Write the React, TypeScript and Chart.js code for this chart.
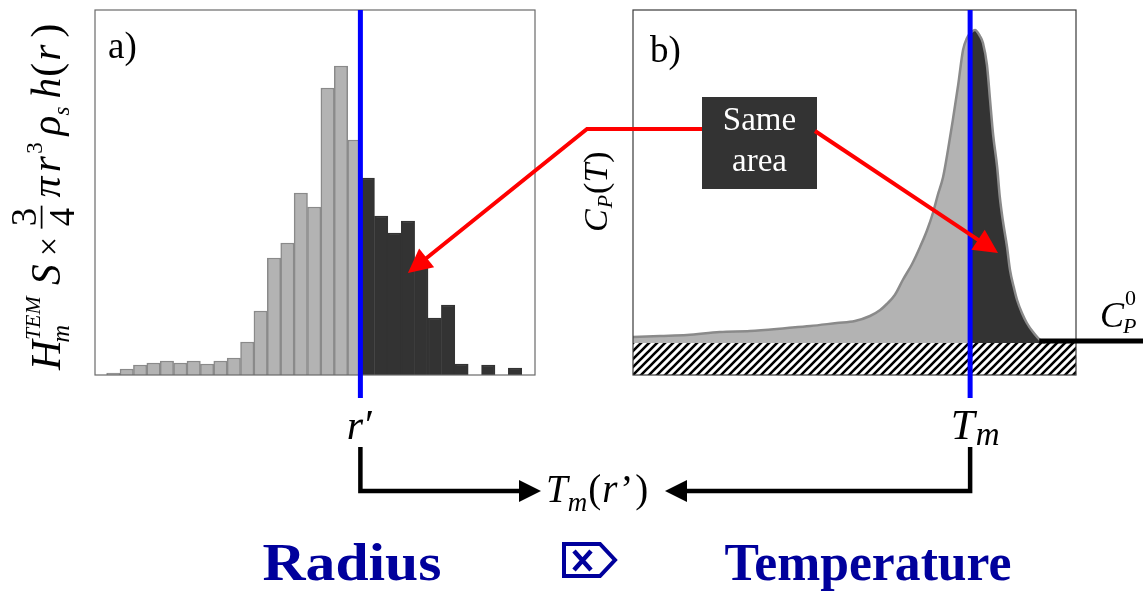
import React, { useEffect, useRef } from "react";
import { Chart, registerables } from "chart.js";

Chart.register(...registerables);

const W = 1143;
const H = 591;

// ---- panel a: volume-weighted radius histogram ----
const radiusBins = [
  1, 2, 3, 4, 5, 6, 7, 8, 9, 10, 11, 12, 13, 14, 15, 16, 17, 18, 19, 20, 21,
  22, 23, 24, 25, 26, 27, 28, 29, 30, 31,
];
const weightedCounts = [
  2, 6, 10, 12, 14, 12, 14, 11, 14, 17, 33, 64, 117, 132, 182, 168, 287, 309,
  235, 197, 159, 142, 154, 115, 57, 70, 11, 0, 10, 0, 7,
];
const rPrime = 19.45;

// ---- panel b: heat capacity trace ----
const temperature = [
  0, 6.1, 12.2, 19.6, 26.4, 34.8, 40.0, 46.0, 50.1, 53.5, 55.8, 57.3, 59.1,
  60.9, 63.0, 64.8, 66.4, 67.7, 68.8, 70.0, 71.1, 72.2, 73.4, 74.5, 75.4, 76.1,
  77.2, 78.3, 79.0, 79.9, 80.6, 81.3, 82.2, 82.8, 83.5, 84.4, 85.1, 86.0, 86.7,
  87.8, 88.9, 90.3, 91.9, 93.0,
];
const heatCapacity = [
  6, 7, 8, 11, 12, 15, 17, 20, 22, 27, 33, 39, 48, 63, 79, 96, 113, 130, 148,
  166, 193, 223, 258, 293, 305, 310, 313, 307, 300, 278, 243, 208, 176, 146,
  122, 97, 73, 55, 43, 30, 20, 11, 3, 0,
];
const meltingT = 76.1;
const baselineCp = 0;
const cpMin = -32;
const cpMax = 333;

const SERIF = '"Liberation Serif", "Times New Roman", serif';
const it = (n: number) => `italic ${n}px ${SERIF}`;
const rm = (n: number) => `${n}px ${SERIF}`;
const bd = (n: number) => `bold ${n}px ${SERIF}`;

const GRAY = "#b3b3b3";
const GRAY_EDGE = "#8a8a8a";
const DARK = "#333333";
const BLUE = "#0000ff";
const RED = "#ff0000";
const NAVY = "#00009c";

type Piece = {
  t?: string;
  f: string;
  dx?: number;
  dy?: number;
  hold?: boolean;
  frac?: [string, string];
};

function runPieces(
  ctx: CanvasRenderingContext2D,
  pieces: Piece[],
  x: number,
  y: number,
  draw: boolean
) {
  let cx = x;
  for (const p of pieces) {
    ctx.font = p.f;
    cx += p.dx || 0;
    let w = 0;
    if (p.frac) {
      const [n, d] = p.frac;
      const wn = ctx.measureText(n).width;
      const wd = ctx.measureText(d).width;
      w = Math.max(wn, wd) + 4;
      if (draw) {
        ctx.fillText(n, cx + (w - wn) / 2, y - 21);
        ctx.fillText(d, cx + (w - wd) / 2, y + 12);
        ctx.fillRect(cx, y - 16.75, w, 1.5);
      }
    } else {
      w = ctx.measureText(p.t || "").width;
      if (draw) ctx.fillText(p.t || "", cx, y + (p.dy || 0));
    }
    if (!p.hold) cx += w;
  }
  return cx - x;
}

function drawPieces(
  ctx: CanvasRenderingContext2D,
  pieces: Piece[],
  x: number,
  y: number,
  align: "left" | "center" = "left"
) {
  ctx.textAlign = "left";
  ctx.textBaseline = "alphabetic";
  let sx = x;
  if (align === "center") sx = x - runPieces(ctx, pieces, 0, 0, false) / 2;
  runPieces(ctx, pieces, sx, y, true);
}

// text stretched horizontally to span a given width, centred on cx
function fitText(
  ctx: CanvasRenderingContext2D,
  text: string,
  cx: number,
  y: number,
  width: number
) {
  const w = ctx.measureText(text).width;
  ctx.save();
  ctx.translate(cx, y);
  ctx.scale(width / w, 1);
  ctx.textAlign = "center";
  ctx.fillText(text, 0, 0);
  ctx.restore();
}

function arrow(
  ctx: CanvasRenderingContext2D,
  pts: [number, number][],
  color: string,
  width: number,
  headLen: number,
  headHalf: number
) {
  const n = pts.length;
  const [tx, ty] = pts[n - 1];
  const [px, py] = pts[n - 2];
  const ang = Math.atan2(ty - py, tx - px);
  const bx = tx - Math.cos(ang) * headLen;
  const by = ty - Math.sin(ang) * headLen;
  ctx.save();
  ctx.strokeStyle = color;
  ctx.fillStyle = color;
  ctx.lineWidth = width;
  ctx.lineJoin = "miter";
  ctx.beginPath();
  ctx.moveTo(pts[0][0], pts[0][1]);
  for (let i = 1; i < n - 1; i++) ctx.lineTo(pts[i][0], pts[i][1]);
  ctx.lineTo(bx + Math.cos(ang) * 2, by + Math.sin(ang) * 2);
  ctx.stroke();
  ctx.beginPath();
  ctx.moveTo(tx, ty);
  ctx.lineTo(bx - Math.sin(ang) * headHalf, by + Math.cos(ang) * headHalf);
  ctx.lineTo(bx + Math.sin(ang) * headHalf, by - Math.cos(ang) * headHalf);
  ctx.closePath();
  ctx.fill();
  ctx.restore();
}

function hatchPattern() {
  const s = 8;
  const c = document.createElement("canvas");
  c.width = s;
  c.height = s;
  const g = c.getContext("2d")!;
  g.fillStyle = "#ffffff";
  g.fillRect(0, 0, s, s);
  g.strokeStyle = "#000000";
  g.lineWidth = 2.6;
  g.beginPath();
  g.moveTo(-1, s + 1);
  g.lineTo(s + 1, -1);
  g.moveTo(-s / 2 - 1, s / 2 + 1);
  g.lineTo(s / 2 + 1, -s / 2 - 1);
  g.moveTo(s / 2 - 1, s * 1.5 + 1);
  g.lineTo(s * 1.5 + 1, s / 2 - 1);
  g.stroke();
  return g.createPattern(c, "repeat")!;
}

const yLabelA: Piece[] = [
  { t: "H", f: it(36) },
  { t: "m", f: it(21), dx: -2, dy: 8, hold: true },
  { t: "TEM", f: it(19), dx: 2, dy: -17 },
  { t: "S", f: it(36), dx: 10 },
  { t: "×", f: rm(30), dx: 7 },
  { frac: ["3", "4"], f: rm(32), dx: 7 },
  { t: "π", f: it(36), dx: 7 },
  { t: "r", f: it(36), dx: 4 },
  { t: "3", f: rm(20), dx: 2, dy: -16 },
  { t: "ρ", f: it(36), dx: 6 },
  { t: "s", f: it(20), dy: 8 },
  { t: "h", f: it(36), dx: 7 },
  { t: "(", f: rm(36), dx: 1 },
  { t: "r", f: it(36), dx: 2 },
  { t: ")", f: rm(36), dx: 6 },
];

const yLabelB: Piece[] = [
  { t: "C", f: it(34) },
  { t: "P", f: it(22), dx: 1, dy: 5 },
  { t: "(", f: rm(34), dx: 1 },
  { t: "T", f: it(34) },
  { t: ")", f: rm(34), dx: 1 },
];

export default function App() {
  const refA = useRef<HTMLCanvasElement>(null);
  const refB = useRef<HTMLCanvasElement>(null);

  useEffect(() => {
    const barColors = radiusBins.map((r) => (r < rPrime ? GRAY : DARK));
    const barEdges = radiusBins.map((r) => (r < rPrime ? GRAY_EDGE : DARK));

    const panelA = {
      id: "panelA",
      afterDatasetsDraw(chart: any) {
        const ctx = chart.ctx as CanvasRenderingContext2D;
        const { left, top, right, bottom } = chart.chartArea;
        ctx.save();
        ctx.strokeStyle = "#6a6a6a";
        ctx.lineWidth = 1.2;
        ctx.strokeRect(left, top, right - left, bottom - top);
        const x = chart.scales.x.getPixelForValue(rPrime);
        ctx.strokeStyle = BLUE;
        ctx.lineWidth = 5;
        ctx.beginPath();
        ctx.moveTo(x, top);
        ctx.lineTo(x, bottom + 23);
        ctx.stroke();
        ctx.restore();
      },
      afterDraw(chart: any) {
        const ctx = chart.ctx as CanvasRenderingContext2D;
        ctx.save();
        ctx.fillStyle = "#000";
        ctx.font = rm(37);
        ctx.fillText("a)", chart.chartArea.left + 13, 58);
        ctx.translate(60, 370);
        ctx.rotate(-Math.PI / 2);
        ctx.scale(1.15, 1.15);
        drawPieces(ctx, yLabelA, 0, 0);
        ctx.restore();
      },
    };

    const chartA = new Chart(refA.current!, {
      type: "bar",
      data: {
        datasets: [
          {
            data: radiusBins.map((r, i) => ({ x: r, y: weightedCounts[i] })),
            backgroundColor: barColors,
            borderColor: barEdges,
            borderWidth: 1.5,
            barPercentage: 1,
            categoryPercentage: 1,
          },
        ],
      },
      options: {
        responsive: false,
        animation: false,
        events: [],
        layout: { padding: { left: 95, top: 10, right: W - 535, bottom: H - 375 } },
        scales: {
          x: { type: "linear", min: -0.37, max: 32.49, offset: false, display: false },
          y: { min: 0, max: 365, display: false },
        },
        plugins: { legend: { display: false }, tooltip: { enabled: false } },
      },
      plugins: [panelA],
    } as any);

    const below = temperature
      .map((t, i) => ({ x: t, y: heatCapacity[i] }))
      .filter((p) => p.x <= meltingT);
    const above = temperature
      .map((t, i) => ({ x: t, y: heatCapacity[i] }))
      .filter((p) => p.x >= meltingT);

    const panelB = {
      id: "panelB",
      afterDatasetsDraw(chart: any) {
        const ctx = chart.ctx as CanvasRenderingContext2D;
        const { left, top, right, bottom } = chart.chartArea;
        ctx.save();
        ctx.strokeStyle = "#3a3a3a";
        ctx.lineWidth = 1.2;
        ctx.strokeRect(left, top, right - left, bottom - top);
        const x = chart.scales.x.getPixelForValue(meltingT);
        ctx.strokeStyle = BLUE;
        ctx.lineWidth = 5;
        ctx.beginPath();
        ctx.moveTo(x, top);
        ctx.lineTo(x, bottom + 23);
        ctx.stroke();
        ctx.restore();
      },
      afterDraw(chart: any) {
        const ctx = chart.ctx as CanvasRenderingContext2D;
        const xs = chart.scales.x;
        const ys = chart.scales.y;
        const ax = chartA.scales.x;
        const ay = chartA.scales.y;
        const xr = ax.getPixelForValue(rPrime);
        const xt = xs.getPixelForValue(meltingT);
        ctx.save();

        // panel label and axis label
        ctx.fillStyle = "#000";
        ctx.font = rm(37);
        ctx.fillText("b)", chart.chartArea.left + 17, 62);
        ctx.save();
        ctx.translate(607, 232);
        ctx.rotate(-Math.PI / 2);
        drawPieces(ctx, yLabelB, 0, 0);
        ctx.restore();

        // baseline heat capacity marker
        const yb = ys.getPixelForValue(baselineCp) - 2;
        ctx.strokeStyle = "#000";
        ctx.lineWidth = 5;
        ctx.beginPath();
        ctx.moveTo(xs.getPixelForValue(91.7), yb);
        ctx.lineTo(W, yb);
        ctx.stroke();
        drawPieces(
          ctx,
          [
            { t: "C", f: it(36) },
            { t: "0", f: rm(22), dx: 1, dy: -22, hold: true },
            { t: "P", f: it(22), dx: -2, dy: 6 },
          ],
          1100,
          327
        );

        // callout box
        const bx0 = 702;
        const by0 = 97;
        const bw = 115;
        const bh = 92;
        ctx.fillStyle = DARK;
        ctx.fillRect(bx0, by0, bw, bh);
        ctx.fillStyle = "#ffffff";
        ctx.font = rm(33);
        ctx.textAlign = "center";
        ctx.fillText("Same", bx0 + bw / 2, 130);
        ctx.fillText("area", bx0 + bw / 2, 171);
        ctx.textAlign = "left";

        // arrows to the two equal areas
        arrow(
          ctx,
          [
            [bx0, 129],
            [587, 129],
            [ax.getPixelForValue(23.0), ay.getPixelForValue(102)],
          ],
          RED,
          4,
          24,
          12
        );
        arrow(
          ctx,
          [
            [bx0 + bw - 2, 131],
            [xs.getPixelForValue(82.4), ys.getPixelForValue(90)],
          ],
          RED,
          4,
          24,
          12
        );

        // r' and Tm labels
        ctx.fillStyle = "#000";
        drawPieces(
          ctx,
          [
            { t: "r", f: it(42) },
            { t: "′", f: rm(42), dx: 2 },
          ],
          xr,
          439,
          "center"
        );
        drawPieces(
          ctx,
          [
            { t: "T", f: it(43) },
            { t: "m", f: it(33), dx: 1, dy: 6 },
          ],
          xt + 5,
          439,
          "center"
        );

        // mapping bracket
        arrow(ctx, [[xr, 447], [xr, 491], [541, 491]], "#000", 4.5, 22, 11);
        arrow(ctx, [[xt, 447], [xt, 491], [665, 491]], "#000", 4.5, 22, 11);
        drawPieces(
          ctx,
          [
            { t: "T", f: it(39) },
            { t: "m", f: it(27), dx: 0, dy: 9 },
            { t: "(", f: rm(39), dx: 1 },
            { t: "r", f: it(39), dx: 1 },
            { t: "’", f: rm(39), dx: 3 },
            { t: ")", f: rm(39), dx: 2 },
          ],
          546,
          502
        );

        // bottom captions
        ctx.fillStyle = NAVY;
        ctx.font = bd(53);
        fitText(ctx, "Radius", 352, 580, 179);
        fitText(ctx, "Temperature", 868, 580, 287);

        // conversion symbol
        ctx.strokeStyle = NAVY;
        ctx.lineWidth = 4;
        ctx.lineJoin = "miter";
        ctx.beginPath();
        ctx.moveTo(564, 544);
        ctx.lineTo(600, 544);
        ctx.lineTo(615, 560);
        ctx.lineTo(600, 576);
        ctx.lineTo(564, 576);
        ctx.closePath();
        ctx.stroke();
        ctx.lineWidth = 4.5;
        ctx.beginPath();
        ctx.moveTo(574, 551);
        ctx.lineTo(591, 570);
        ctx.moveTo(591, 551);
        ctx.lineTo(574, 570);
        ctx.stroke();

        ctx.restore();
      },
    };

    const chartB = new Chart(refB.current!, {
      type: "line",
      data: {
        datasets: [
          {
            data: above,
            order: 1,
            borderColor: GRAY_EDGE,
            borderWidth: 2.5,
            backgroundColor: DARK,
            fill: "origin",
            pointRadius: 0,
            cubicInterpolationMode: "monotone",
          },
          {
            data: below,
            order: 2,
            borderColor: GRAY_EDGE,
            borderWidth: 2.5,
            backgroundColor: GRAY,
            fill: "origin",
            pointRadius: 0,
            cubicInterpolationMode: "monotone",
          },
          {
            data: [
              { x: 0, y: baselineCp },
              { x: 100, y: baselineCp },
            ],
            order: 3,
            borderWidth: 0,
            backgroundColor: hatchPattern(),
            fill: "start",
            pointRadius: 0,
          },
        ],
      },
      options: {
        responsive: false,
        animation: false,
        events: [],
        layout: { padding: { left: 633, top: 10, right: W - 1076, bottom: H - 375 } },
        scales: {
          x: { type: "linear", min: 0, max: 100, display: false },
          y: { min: cpMin, max: cpMax, display: false },
        },
        plugins: { legend: { display: false }, tooltip: { enabled: false } },
      },
      plugins: [panelB],
    } as any);

    return () => {
      chartB.destroy();
      chartA.destroy();
    };
  }, []);

  return (
    <div
      style={{
        position: "absolute",
        left: 0,
        top: 0,
        width: W,
        height: H,
        background: "#ffffff",
        overflow: "hidden",
      }}
    >
      <canvas
        ref={refA}
        width={W}
        height={H}
        style={{ position: "absolute", left: 0, top: 0 }}
      />
      <canvas
        ref={refB}
        width={W}
        height={H}
        style={{ position: "absolute", left: 0, top: 0 }}
      />
    </div>
  );
}
